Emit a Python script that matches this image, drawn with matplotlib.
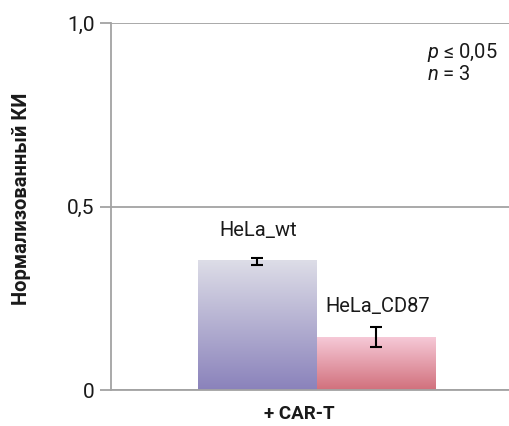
import matplotlib.pyplot as plt
import numpy as np
from matplotlib.colors import LinearSegmentedColormap

plt.rcParams['font.family'] = ['Roboto', 'DejaVu Sans']
plt.rcParams['mathtext.fontset'] = 'custom'
plt.rcParams['mathtext.it'] = 'Roboto:italic'
plt.rcParams['mathtext.rm'] = 'Roboto'

# Data
labels = ['HeLa_wt', 'HeLa_CD87']
values = [0.354, 0.144]
errors = [0.010, 0.028]
err_centers = [0.351, 0.145]
yticks = [0, 0.5, 1.0]
ytick_labels = ['0', '0,5', '1,0']

grad_colors = [('#8a82bb', '#dddde7'), ('#d1707c', '#f6c9d7')]
grid_color = '#a3a3a3'

fig = plt.figure(figsize=(5.10, 4.26), dpi=100)
ax = fig.add_axes([111 / 510, 1 - 390 / 426, 399 / 510, 367 / 426])

x = np.arange(len(labels))
bars = ax.bar(x, values, width=1.0, color='none', edgecolor='none', zorder=2)

# vertical gradient inside each bar
grad = np.linspace(0, 1, 256).reshape(-1, 1)
for b, (c0, c1) in zip(bars, grad_colors):
    cmap = LinearSegmentedColormap.from_list('g', [c0, c1])
    bx, by = b.get_x(), b.get_y()
    im = ax.imshow(grad, cmap=cmap, origin='lower', aspect='auto',
                   extent=[bx, bx + b.get_width(), by, by + b.get_height()],
                   zorder=2)
    im.set_clip_path(b)

ax.errorbar(x, err_centers, yerr=errors, fmt='none', ecolor='black',
            elinewidth=1.5, capsize=4, capthick=1.5, zorder=3)

# bar labels
label_y = [0.435, 0.227]
for xi, lab, ly in zip(x, labels, label_y):
    ax.text(xi + 0.01, ly, lab, ha='center', va='center', fontsize=14.5, color='#1a1a1a')

ax.set_xlim(-1.232, 2.127)
ax.set_ylim(0, 1.0)
ax.set_yticks(yticks)
ax.set_yticklabels(ytick_labels, fontsize=15, color='#1a1a1a')
ax.set_xticks([])
ax.tick_params(axis='y', direction='out', length=8, width=1.3, color=grid_color, pad=4)
ax.yaxis.grid(True, color=grid_color, linewidth=1.3, zorder=0)
ax.set_axisbelow(True)

for side in ['top', 'right']:
    ax.spines[side].set_visible(False)
ax.spines['left'].set_color(grid_color)
ax.spines['left'].set_linewidth(1.3)
ax.spines['bottom'].set_color(grid_color)
ax.spines['bottom'].set_linewidth(1.3)

fig.text(299 / 510, 1 - 414 / 426, '+ CAR-T', fontsize=13.5, fontweight='bold',
         ha='center', va='center', color='#1a1a1a')
fig.text(22 / 510, 1 - 199 / 426, 'Нормализованный КИ', fontsize=14.5,
         fontweight='bold', rotation=90, ha='center', va='center', color='#1a1a1a')

ax.text(427, 426 - 52, r'$p$ ≤ 0,05', transform=None, fontsize=14.5,
        ha='left', va='center', color='#1a1a1a')
ax.text(427, 426 - 75, r'$n$ = 3', transform=None, fontsize=14.5,
        ha='left', va='center', color='#1a1a1a')

fig.savefig('out.png', dpi=100)
